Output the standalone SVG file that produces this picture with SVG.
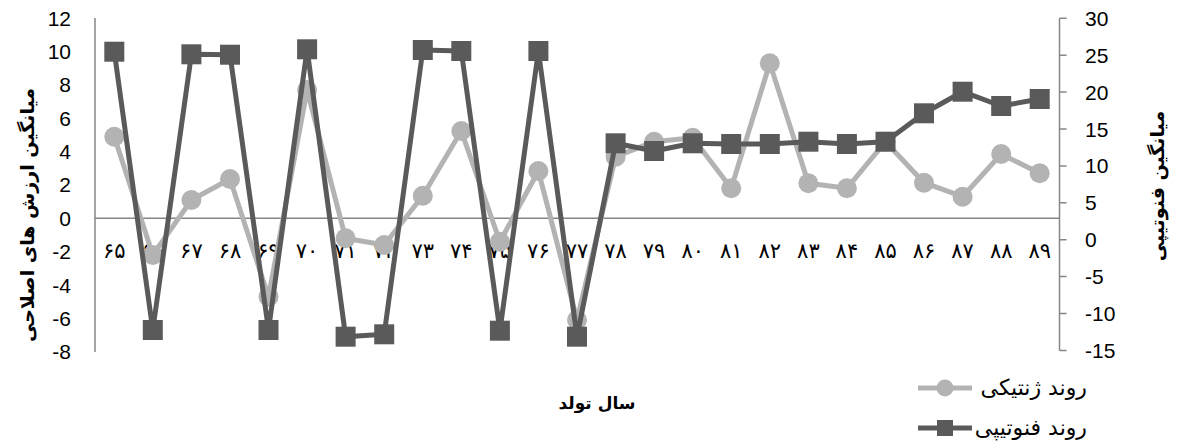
<svg xmlns="http://www.w3.org/2000/svg" xmlns:xlink="http://www.w3.org/1999/xlink" width="1177" height="445" viewBox="0 0 1177 445">
<style>
.num{font-family:"Liberation Sans",Arial,sans-serif;font-size:21px;fill:#000}
.cat{font-family:"DejaVu Sans",sans-serif;font-size:21px;fill:#000;text-anchor:middle}
.title{font-family:"DejaVu Sans",sans-serif;font-size:19px;font-weight:bold;fill:#000;text-anchor:middle}
.xt{font-size:17px}
.leg{font-family:"DejaVu Sans",sans-serif;font-size:22px;fill:#000;text-anchor:end}
.axis{stroke:#868686;stroke-width:1.5;fill:none}
.lgt{stroke:#b3b3b3;stroke-width:5;fill:none;stroke-linejoin:round}
.drk{stroke:#5a5a5a;stroke-width:5;fill:none;stroke-linejoin:round}
</style>
<defs>
<circle id="mc" r="10" fill="#b3b3b3"/>
<rect id="ms" x="-10" y="-10" width="20" height="20" fill="#5a5a5a"/>
</defs>
<rect width="1177" height="445" fill="#fff"/>
<g id="axes">
<line class="axis" x1="95" y1="18" x2="95" y2="352"/>
<line class="axis" x1="95" y1="218.3" x2="1059.5" y2="218.3"/>
<line class="axis" x1="1059.5" y1="18.3" x2="1059.5" y2="350.5"/>
<path class="axis" d="M1059.5 18.3h7M1059.5 55.2h7M1059.5 92.1h7M1059.5 129h7M1059.5 165.9h7M1059.5 202.8h7M1059.5 239.7h7M1059.5 276.6h7M1059.5 313.5h7M1059.5 350.4h7"/>
</g>
<g id="left-labels" class="num" text-anchor="end">
<text x="71" y="25.5">12</text>
<text x="71" y="58.9">10</text>
<text x="71" y="92.3">8</text>
<text x="71" y="125.7">6</text>
<text x="71" y="159">4</text>
<text x="71" y="192.4">2</text>
<text x="71" y="225.8">0</text>
<text x="71" y="259.2">-2</text>
<text x="71" y="292.6">-4</text>
<text x="71" y="326">-6</text>
<text x="71" y="359.4">-8</text>
</g>
<g id="right-labels" class="num" text-anchor="start">
<text x="1085" y="25.8">30</text>
<text x="1085" y="62.7">25</text>
<text x="1085" y="99.6">20</text>
<text x="1085" y="136.5">15</text>
<text x="1085" y="173.4">10</text>
<text x="1085" y="210.3">5</text>
<text x="1085" y="247.2">0</text>
<text x="1085" y="284.1">-5</text>
<text x="1085" y="321">-10</text>
<text x="1085" y="357.9">-15</text>
</g>
<g id="categories" class="cat">
<text x="114.3" y="258">۶۵</text>
<text x="152.8" y="258">۶۶</text>
<text x="191.4" y="258">۶۷</text>
<text x="230" y="258">۶۸</text>
<text x="268.5" y="258">۶۹</text>
<text x="307.1" y="258">۷۰</text>
<text x="345.6" y="258">۷۱</text>
<text x="384.2" y="258">۷۲</text>
<text x="422.8" y="258">۷۳</text>
<text x="461.3" y="258">۷۴</text>
<text x="499.9" y="258">۷۵</text>
<text x="538.4" y="258">۷۶</text>
<text x="577" y="258">۷۷</text>
<text x="615.6" y="258">۷۸</text>
<text x="654.1" y="258">۷۹</text>
<text x="692.7" y="258">۸۰</text>
<text x="731.2" y="258">۸۱</text>
<text x="769.8" y="258">۸۲</text>
<text x="808.4" y="258">۸۳</text>
<text x="846.9" y="258">۸۴</text>
<text x="885.5" y="258">۸۵</text>
<text x="924" y="258">۸۶</text>
<text x="962.6" y="258">۸۷</text>
<text x="1001.2" y="258">۸۸</text>
<text x="1039.7" y="258">۸۹</text>
</g>
<g id="titles" class="title">
<text transform="translate(27,215) rotate(-90)" dy="7">میانگین ارزش های اصلاحی</text>
<text transform="translate(1157,186) rotate(-90)" dy="7">میانگین فنوتیپی</text>
<text class="xt" x="597" y="409">سال تولد</text>
</g>
<g id="connectors">
<polyline id="genetic-line" class="lgt" points="114.3,136.7 152.8,255 191.4,200 230,179 268.5,296.7 307.1,90 345.6,238.3 384.2,245 422.8,195.7 461.3,131 499.9,241.7 538.4,171 577,320 615.6,156.7 654.1,141.7 692.7,137.7 731.2,188.3 769.8,63.3 808.4,183.3 846.9,188.3 885.5,141.7 924,182.7 962.6,196.7 1001.2,154 1039.7,173.3"/>
</g>
<g id="genetic-markers">
<use xlink:href="#mc" x="114.3" y="136.7"/><use xlink:href="#mc" x="152.8" y="255"/><use xlink:href="#mc" x="191.4" y="200"/><use xlink:href="#mc" x="230" y="179"/><use xlink:href="#mc" x="268.5" y="296.7"/><use xlink:href="#mc" x="307.1" y="90"/><use xlink:href="#mc" x="345.6" y="238.3"/><use xlink:href="#mc" x="384.2" y="245"/><use xlink:href="#mc" x="422.8" y="195.7"/><use xlink:href="#mc" x="461.3" y="131"/><use xlink:href="#mc" x="499.9" y="241.7"/><use xlink:href="#mc" x="538.4" y="171"/><use xlink:href="#mc" x="577" y="320"/><use xlink:href="#mc" x="615.6" y="156.7"/><use xlink:href="#mc" x="654.1" y="141.7"/><use xlink:href="#mc" x="692.7" y="137.7"/><use xlink:href="#mc" x="731.2" y="188.3"/><use xlink:href="#mc" x="769.8" y="63.3"/><use xlink:href="#mc" x="808.4" y="183.3"/><use xlink:href="#mc" x="846.9" y="188.3"/><use xlink:href="#mc" x="885.5" y="141.7"/><use xlink:href="#mc" x="924" y="182.7"/><use xlink:href="#mc" x="962.6" y="196.7"/><use xlink:href="#mc" x="1001.2" y="154"/><use xlink:href="#mc" x="1039.7" y="173.3"/>
</g>
<g id="connectors-phenotypic">
<polyline id="phenotypic-line" class="drk" points="114.3,51.7 152.8,330 191.4,54.3 230,54.7 268.5,330 307.1,49.3 345.6,336.7 384.2,334.3 422.8,50 461.3,51 499.9,330.7 538.4,51 577,336.7 615.6,143.3 654.1,151 692.7,143.3 731.2,144 769.8,144 808.4,141.7 846.9,144 885.5,141.7 924,113.3 962.6,91.7 1001.2,106 1039.7,99"/>
</g>
<g id="phenotypic-markers">
<use xlink:href="#ms" x="114.3" y="51.7"/><use xlink:href="#ms" x="152.8" y="330"/><use xlink:href="#ms" x="191.4" y="54.3"/><use xlink:href="#ms" x="230" y="54.7"/><use xlink:href="#ms" x="268.5" y="330"/><use xlink:href="#ms" x="307.1" y="49.3"/><use xlink:href="#ms" x="345.6" y="336.7"/><use xlink:href="#ms" x="384.2" y="334.3"/><use xlink:href="#ms" x="422.8" y="50"/><use xlink:href="#ms" x="461.3" y="51"/><use xlink:href="#ms" x="499.9" y="330.7"/><use xlink:href="#ms" x="538.4" y="51"/><use xlink:href="#ms" x="577" y="336.7"/><use xlink:href="#ms" x="615.6" y="143.3"/><use xlink:href="#ms" x="654.1" y="151"/><use xlink:href="#ms" x="692.7" y="143.3"/><use xlink:href="#ms" x="731.2" y="144"/><use xlink:href="#ms" x="769.8" y="144"/><use xlink:href="#ms" x="808.4" y="141.7"/><use xlink:href="#ms" x="846.9" y="144"/><use xlink:href="#ms" x="885.5" y="141.7"/><use xlink:href="#ms" x="924" y="113.3"/><use xlink:href="#ms" x="962.6" y="91.7"/><use xlink:href="#ms" x="1001.2" y="106"/><use xlink:href="#ms" x="1039.7" y="99"/>
</g>
<g id="legend">
<g id="legend-genetic">
<line class="lgt" x1="918" y1="388" x2="972" y2="388"/>
<circle cx="945" cy="388" r="8.5" fill="#b3b3b3"/>
<text class="leg" x="1087" y="395">روند ژنتیکی</text>
</g>
<g id="legend-phenotypic">
<line class="drk" x1="918" y1="428" x2="972" y2="428"/>
<rect x="937" y="420" width="16" height="16" fill="#5a5a5a"/>
<text class="leg" x="1087" y="435">روند فنوتیپی</text>
</g>
</g>
</svg>
